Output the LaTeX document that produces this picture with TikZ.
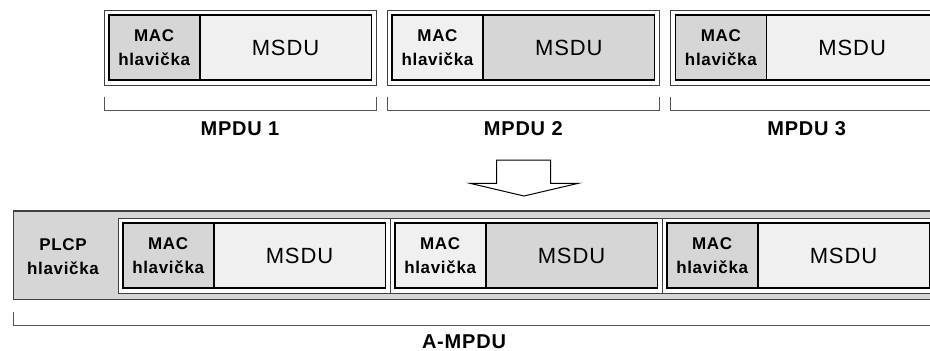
\documentclass[tikz,border=0pt]{standalone}
\usepackage{fontspec}
\setmainfont{Liberation Sans}
\newfontfamily\spfont[LetterSpace=4]{Liberation Sans}
\newcommand{\macfnt}{\spfont\bfseries\fontsize{17}{24}\selectfont}
\newcommand{\msdufnt}{\spfont\fontsize{22}{24}\selectfont}
\newcommand{\lblfnt}{\spfont\bfseries\fontsize{20}{22}\selectfont}
\definecolor{cellgray}{HTML}{D6D6D6}
\definecolor{celllight}{HTML}{F0F0F0}
\definecolor{framegray}{HTML}{404040}
\definecolor{bracegray}{HTML}{555555}
\tikzset{
  frame/.style={draw=framegray, line width=1pt, fill=white, minimum width=272pt,
    minimum height=75pt, anchor=north west, inner sep=0pt, outer sep=0pt},
  cell/.style={draw=black, line width=1.6pt, minimum height=65pt,
    anchor=north west, inner sep=0pt, outer sep=0pt},
  mac/.style={cell, minimum width=91pt, align=center, font=\macfnt},
  msdu/.style={cell, minimum width=171.6pt, font=\msdufnt},
  brace/.style={draw=bracegray, line width=1pt},
  lbl/.style={font=\lblfnt, anchor=base, inner sep=0pt},
}
\begin{document}
\begin{tikzpicture}[x=1pt, y=-1pt]
\clip (0,0) rectangle (930,351);
\fill[white] (0,0) rectangle (930,351);

% separate MPDUs
\foreach \i/\x/\mf/\sf in {1/104/cellgray/celllight, 2/387.3/celllight/cellgray, 3/670.7/cellgray/celllight}{
  \node[frame] (f\i) at (\x,10) {};
  \node[mac, fill=\mf] (m\i) at (\x+4.7,15) {MAC\\hlavička};
  \node[msdu, fill=\sf] (s\i) at (m\i.north east) {MSDU};
  \draw[brace] ([yshift=-11.7pt]f\i.south west) -- ([yshift=-25pt]f\i.south west)
    -- ([yshift=-25pt]f\i.south east) -- ([yshift=-11.7pt]f\i.south east);
  \node[lbl] (l\i) at ([yshift=-50pt]f\i.south) {MPDU \i};
}

% block arrow
\draw[fill=white, line width=1pt, line join=miter]
  (496.7,160) -- (550.7,160) -- (550.7,183.3) -- (578.3,183.3) -- (524,196)
  -- (470,183.3) -- (496.7,183.3) -- cycle;

% aggregated frame
\node[draw=framegray, line width=1.3pt, fill=cellgray, anchor=north west,
  minimum width=1000pt, minimum height=88.3pt, inner sep=0pt, outer sep=0pt] (plcp) at (13.3,211) {};
\node[font=\macfnt, align=center] (plcptxt) at (63,257) {PLCP\\hlavička};
\foreach \i/\x/\mf/\sf in {4/118/cellgray/celllight, 5/390/celllight/cellgray, 6/662/cellgray/celllight}{
  \node[frame] (f\i) at (\x,218) {};
  \node[mac, fill=\mf] (m\i) at (\x+4.7,223) {MAC\\hlavička};
  \node[msdu, fill=\sf] (s\i) at (m\i.north east) {MSDU};
}
\draw[brace] ([yshift=-13pt]plcp.south west) -- ([yshift=-26.4pt]plcp.south west)
  -- ([yshift=-26.4pt]plcp.south east);
\node[lbl] (amp) at (464,348.3) {A-MPDU};
\end{tikzpicture}
\end{document}
